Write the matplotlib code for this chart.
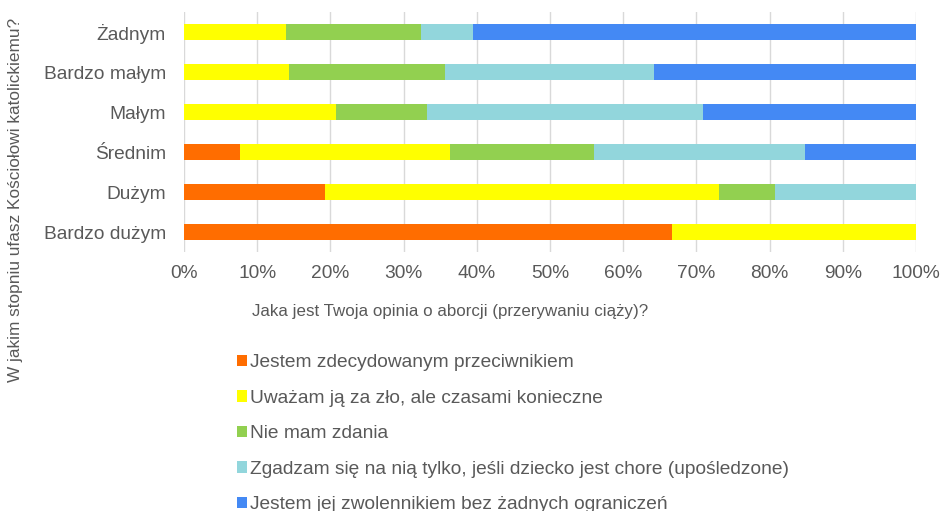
import numpy as np
from matplotlib import pyplot as plt

plt.rcParams['font.family'] = ['Liberation Sans', 'DejaVu Sans']

categories = ['Bardzo dużym', 'Dużym', 'Średnim', 'Małym', 'Bardzo małym', 'Żadnym']
series = ['Jestem zdecydowanym przeciwnikiem',
          'Uważam ją za zło, ale czasami konieczne',
          'Nie mam zdania',
          'Zgadzam się na nią tylko, jeśli dziecko jest chore (upośledzone)',
          'Jestem jej zwolennikiem bez żadnych ograniczeń']
przeciwnik = [66.7, 19.2, 7.7, 0.0, 0.0, 0.0]
zlo = [33.3, 53.9, 28.6, 20.8, 14.3, 13.9]
brak_zdania = [0.0, 7.7, 19.7, 12.4, 21.4, 18.5]
chore = [0.0, 19.2, 28.8, 37.7, 28.5, 7.1]
zwolennik = [0.0, 0.0, 15.2, 29.1, 35.8, 60.5]
values = [przeciwnik, zlo, brak_zdania, chore, zwolennik]
colors = ['#FF6D00', '#FFFF00', '#92D050', '#92D6DC', '#4489F4']

text_color = '#595959'

fig = plt.figure(figsize=(9.42, 5.11), dpi=100)
ax = fig.add_axes([0.1953, 0.5068, 0.7771, 0.4697])

y = np.arange(len(categories))
left = np.zeros(len(categories))
handles = []
for vals, col, name in zip(values, colors, series):
    vals = np.array(vals)
    h = ax.barh(y, vals, left=left, height=0.4, color=col, label=name, zorder=3)
    handles.append(h)
    left += vals

ax.set_xlim(0, 100)
ax.set_ylim(-0.5, 5.5)
ax.set_xticks(np.arange(0, 101, 10))
ax.set_xticklabels([f'{v}%' for v in range(0, 101, 10)])
ax.set_yticks(y)
ax.set_yticklabels(categories)
ax.tick_params(axis='both', length=0, labelsize=13.8, colors=text_color)
ax.tick_params(axis='y', pad=13)
ax.tick_params(axis='x', pad=9)
ax.grid(axis='x', color='#D9D9D9', linewidth=1, zorder=0)
for s in ax.spines.values():
    s.set_visible(False)

fig.text(0.4775, 0.39, 'Jaka jest Twoja opinia o aborcji (przerywaniu ciąży)?',
         ha='center', va='center', fontsize=12.2, color=text_color)
fig.text(0.016, 0.608, 'W jakim stopniu ufasz Kościołowi katolickiemu?',
         ha='center', va='center', rotation=90, fontsize=12.4, color=text_color)

leg = fig.legend(handles=handles, loc='upper left', bbox_to_anchor=(0.243, 0.322),
                 frameon=False, fontsize=13.8, handlelength=0.55, handleheight=0.55,
                 handletextpad=0.15, labelspacing=0.97, borderaxespad=0)
for t in leg.get_texts():
    t.set_color(text_color)

fig.savefig('out.png', dpi=100)
